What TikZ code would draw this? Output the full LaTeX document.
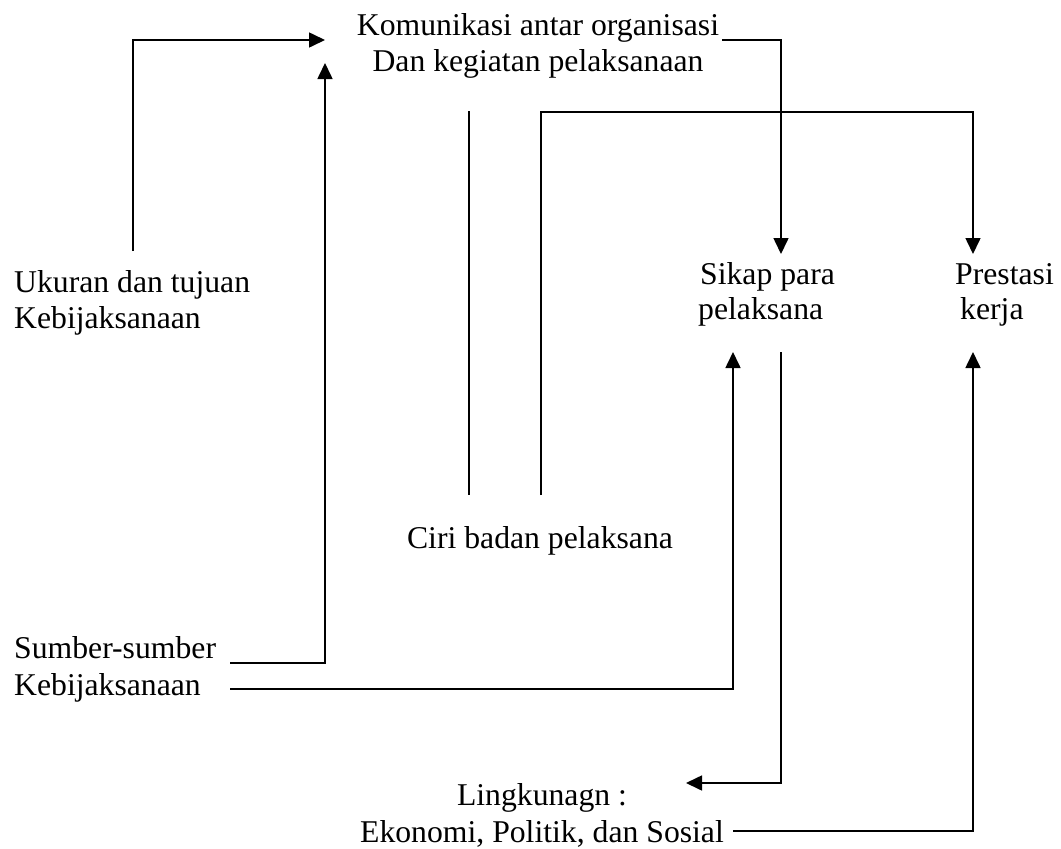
\documentclass[tikz,border=0pt]{standalone}
\usepackage{fontspec}
\setmainfont{Liberation Serif}
\usetikzlibrary{arrows.meta}
\begin{document}
\begin{tikzpicture}[x=1pt,y=-1pt,
  lbl/.style={inner sep=0pt,font=\fontsize{31.7}{36}\selectfont},
  conn/.style={line width=1.6pt,line join=miter},
  arr/.style={conn,-{Triangle[length=16pt,width=15pt]}}]
\useasboundingbox (0,0) rectangle (1061,849);
% texts
\node[lbl,anchor=base] (kom1) at (538,35) {Komunikasi antar organisasi};
\node[lbl,anchor=base] (kom2) at (538,71) {Dan kegiatan pelaksanaan};
\node[lbl,anchor=base west] (uk1) at (14,292) {Ukuran dan tujuan};
\node[lbl,anchor=base west] (uk2) at (14,328) {Kebijaksanaan};
\node[lbl,anchor=base west] (sk1) at (700,284) {Sikap para};
\node[lbl,anchor=base west] (sk2) at (698,319) {pelaksana};
\node[lbl,anchor=base west] (pr1) at (955,284) {Prestasi};
\node[lbl,anchor=base west] (pr2) at (960,319) {kerja};
\node[lbl,anchor=base] (ciri) at (540,548) {Ciri badan pelaksana};
\node[lbl,anchor=base west] (sb1) at (14,658) {Sumber-sumber};
\node[lbl,anchor=base west] (sb2) at (14,695) {Kebijaksanaan};
\node[lbl,anchor=base] (lk1) at (542,805) {Lingkunagn :};
\node[lbl,anchor=base] (lk2) at (542,842) {Ekonomi, Politik, dan Sosial};
% connector points
\coordinate (ukB) at (133,251);
\coordinate (ukT) at (133,40);
\coordinate (komW) at (325,40);
\coordinate (sbA) at (230,663);
\coordinate (sbC) at (325,663);
\coordinate (komS) at (325,63);
\coordinate (komE) at (722,40);
\coordinate (komEC) at (781,40);
\coordinate (skN) at (781,254);
\coordinate (ciL1) at (469,111);
\coordinate (ciL2) at (469,495);
\coordinate (ciR1) at (541,495);
\coordinate (ciR2) at (541,112);
\coordinate (prC) at (973,112);
\coordinate (prN) at (973,254);
\coordinate (kbA) at (230,689);
\coordinate (kbC) at (733,689);
\coordinate (skS) at (733,352);
\coordinate (skD) at (781,352);
\coordinate (skDC) at (781,783);
\coordinate (lkE) at (686,783);
\coordinate (ekA) at (733,831);
\coordinate (ekC) at (973,831);
\coordinate (prS) at (973,352);
% connectors
\draw[arr] (ukB) -- (ukT) -- (komW);
\draw[arr] (sbA) -- (sbC) -- (komS);
\draw[arr] (komE) -- (komEC) -- (skN);
\draw[conn] (ciL1) -- (ciL2);
\draw[arr] (ciR1) -- (ciR2) -- (prC) -- (prN);
\draw[arr] (kbA) -- (kbC) -- (skS);
\draw[arr] (skD) -- (skDC) -- (lkE);
\draw[arr] (ekA) -- (ekC) -- (prS);
\end{tikzpicture}
\end{document}
